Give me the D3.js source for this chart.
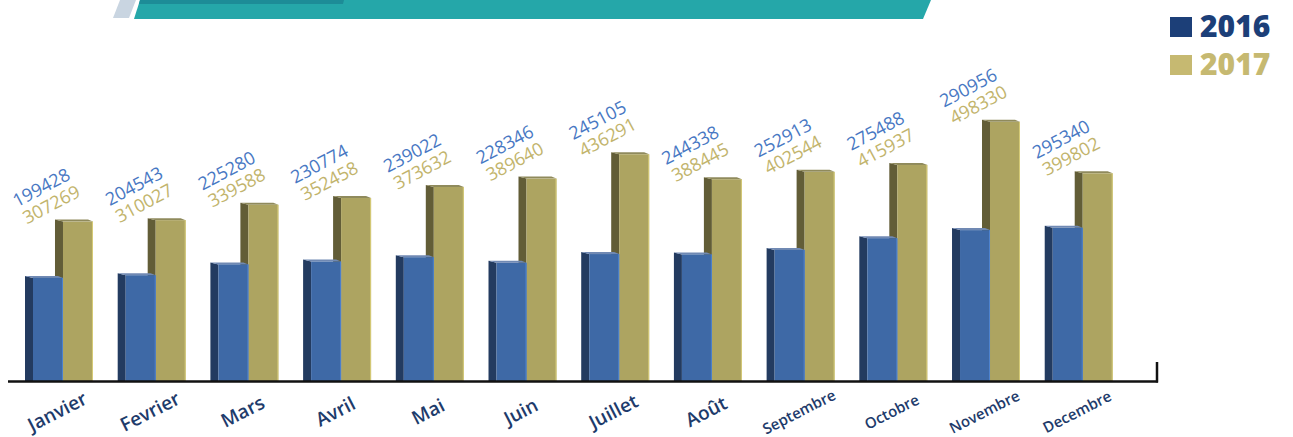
<!DOCTYPE html>
<html>
<head>
<meta charset="utf-8">
<script src="https://cdn.jsdelivr.net/npm/d3@7"></script>
<style>
  html, body { margin: 0; padding: 0; background: #fff; }
  svg { display: block; }
</style>
</head>
<body>
<script>
// Data
var months = ["Janvier", "Fevrier", "Mars", "Avril", "Mai", "Juin",
  "Juillet", "Août", "Septembre", "Octobre", "Novembre", "Decembre"];
var years = ["2016", "2017"];
var values2016 = [199428, 204543, 225280, 230774, 239022, 228346,
  245105, 244338, 252913, 275488, 290956, 295340];
var values2017 = [307269, 310027, 339588, 352458, 373632, 389640,
  436291, 388445, 402544, 415937, 498330, 399802];

var width = 1293, height = 437;
var baseY = 381;

var colors = {
  "2016": {front: "#3e69a6", side: "#233b60", top: "#7089b3", text: "#4878c3", legend: "#1c3f78"},
  "2017": {front: "#ada461", side: "#625d37", top: "#8f8a5c", text: "#c2b46c", legend: "#c6b971"}
};

var svg = d3.select("body").append("svg")
  .attr("width", width)
  .attr("height", height);

// Banner at the top
svg.append("polygon")
  .attr("points", "120,0 136,0 129,18 113,18")
  .attr("fill", "#c9d5e1");
svg.append("polygon")
  .attr("points", "140,0 931,0 923,19 134,19")
  .attr("fill", "#25a7a9");
svg.append("polygon")
  .attr("points", "140,0 344,0 343,4 139,4")
  .attr("fill", "#1d8c97");

// Scales
var x = d3.scaleBand()
  .domain(months)
  .range([33, 1112.7])
  .paddingInner(0.353)
  .paddingOuter(0);

var x1 = d3.scaleBand()
  .domain(years)
  .range([0, x.bandwidth()]);

var y = d3.scaleLinear()
  .domain([0, 500000])
  .range([baseY, baseY - 261]);

var rows = months.map(function (m, i) {
  return {month: m, i: i, "2016": values2016[i], "2017": values2017[i]};
});

// 3D-ish bar: left dark side, thin top, front face
function drawBar(g, x0, w, top, c) {
  var d = 8;
  g.append("polygon")
    .attr("points", [[x0 - d, top - 1], [x0, top + 1], [x0, baseY], [x0 - d, baseY]].join(" "))
    .attr("fill", c.side);
  g.append("polygon")
    .attr("points", [[x0 - d, top - 1], [x0 + w - 5, top - 1], [x0 + w, top + 1], [x0, top + 1]].join(" "))
    .attr("fill", c.top);
  g.append("rect")
    .attr("x", x0)
    .attr("y", top + 1)
    .attr("width", w)
    .attr("height", baseY - top - 1)
    .attr("fill", c.front);
  g.append("line")
    .attr("x1", x0 + w - 0.5).attr("x2", x0 + w - 0.5)
    .attr("y1", top + 1).attr("y2", baseY)
    .attr("stroke", d3.color(c.front).brighter(0.6))
    .attr("stroke-width", 1);
}

var groups = svg.selectAll(".grp")
  .data(rows)
  .enter().append("g")
  .attr("class", "grp");

groups.each(function (d) {
  var g = d3.select(this);
  var gx = x(d.month);
  // gold first, blue drawn over it
  ["2017", "2016"].forEach(function (yr) {
    drawBar(g, gx + x1(yr), x1.bandwidth(), y(d[yr]), colors[yr]);
  });
});

// Value labels
groups.each(function (d) {
  var g = d3.select(this);
  var gx = x(d.month);
  var top = Math.min(y(d["2016"]), y(d["2017"]));
  var pos = [
    {yr: "2016", lx: gx - 16, ly: top - 13},
    {yr: "2017", lx: gx - 6, ly: top + 4}
  ];
  pos.forEach(function (p) {
    g.append("text")
      .attr("transform", "translate(" + p.lx + "," + p.ly + ") rotate(-28)")
      .attr("fill", colors[p.yr].text)
      .style("font-family", "'Open Sans', sans-serif")
      .style("font-size", "18px")
      .text(d[p.yr]);
  });
});

// Baseline
svg.append("line")
  .attr("x1", 8).attr("x2", 1158)
  .attr("y1", baseY + 0.5).attr("y2", baseY + 0.5)
  .attr("stroke", "#111")
  .attr("stroke-width", 2.5);
svg.append("line")
  .attr("x1", 1157).attr("x2", 1157)
  .attr("y1", 362).attr("y2", baseY + 1.5)
  .attr("stroke", "#111")
  .attr("stroke-width", 2.5);

// Month labels
svg.selectAll(".month")
  .data(months)
  .enter().append("text")
  .attr("class", "month")
  .attr("transform", function (d) {
    return "translate(" + (x(d) + 25) + ",413) rotate(-27)";
  })
  .attr("text-anchor", "middle")
  .attr("dominant-baseline", "middle")
  .attr("fill", "#1e3b6b")
  .style("font-family", "'Open Sans', sans-serif")
  .style("font-weight", 600)
  .style("font-size", function (d, i) { return i < 8 ? "19px" : "15px"; })
  .text(function (d) { return d; });

// Legend
var legend = svg.selectAll(".legend")
  .data(years)
  .enter().append("g")
  .attr("class", "legend")
  .attr("transform", function (d, i) { return "translate(1170," + (17 + i * 38) + ")"; });

legend.append("rect")
  .attr("width", 22)
  .attr("height", 20)
  .attr("fill", function (d) { return colors[d].legend; });

legend.append("text")
  .attr("x", 30)
  .attr("y", 20)
  .attr("fill", function (d) { return colors[d].legend; })
  .style("font-family", "'Open Sans', sans-serif")
  .style("font-weight", 800)
  .style("font-size", "30px")
  .text(function (d) { return d; });
</script>
</body>
</html>
